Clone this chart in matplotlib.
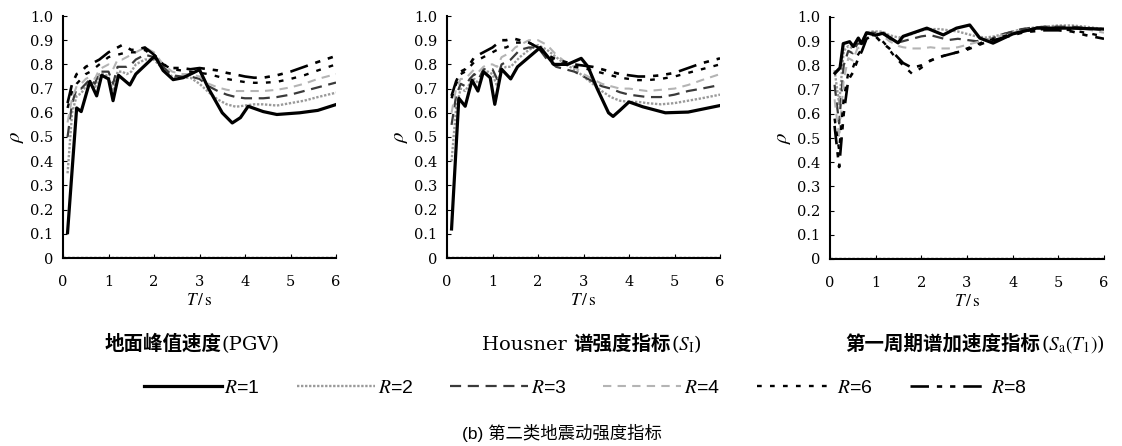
import matplotlib
matplotlib.use("Agg")
import matplotlib.pyplot as plt
from matplotlib.offsetbox import TextArea, HPacker, AnnotationBbox

plt.rcParams['mathtext.fontset'] = 'stix'

# ---------------- data ----------------
T = [0.1, 0.2, 0.3, 0.4, 0.5, 0.6, 0.7, 0.8, 0.9, 1.0, 1.1, 1.2, 1.3, 1.4, 1.5, 1.6,
     1.8, 2.0, 2.2, 2.4, 2.6, 2.8, 3.0, 3.2, 3.4, 3.6, 3.8, 4.0, 4.2, 4.4, 4.7, 5.0,
     5.3, 5.6, 6.0]

# Panel 1: PGV
T_pgv_r1 = [0.1, 0.3, 0.4, 0.59, 0.74, 0.85, 1.0, 1.1, 1.22, 1.47, 1.6, 2.02, 2.2,
            2.42, 2.64, 3.0, 3.2, 3.5, 3.72, 3.9, 4.07, 4.4, 4.7, 5.2, 5.6, 6.0]
pgv_r1 = [0.105, 0.62, 0.605, 0.73, 0.67, 0.755, 0.74, 0.65, 0.755, 0.715, 0.76, 0.835,
          0.775, 0.737, 0.745, 0.778, 0.70, 0.60, 0.558, 0.58, 0.627, 0.605, 0.593, 0.60,
          0.61, 0.634]
pgv_r2 = [0.35, 0.60, 0.67, 0.68, 0.71, 0.73, 0.70, 0.76, 0.76, 0.75, 0.69, 0.77, 0.77,
          0.76, 0.77, 0.80, 0.82, 0.82, 0.78, 0.75, 0.745, 0.745, 0.72, 0.685, 0.655,
          0.635, 0.625, 0.63, 0.635, 0.635, 0.63, 0.64, 0.65, 0.665, 0.683]
pgv_r3 = [0.50, 0.64, 0.70, 0.70, 0.72, 0.74, 0.72, 0.77, 0.77, 0.77, 0.72, 0.79, 0.79,
          0.79, 0.80, 0.82, 0.84, 0.83, 0.79, 0.755, 0.75, 0.75, 0.74, 0.71, 0.69, 0.675,
          0.665, 0.66, 0.66, 0.66, 0.665, 0.675, 0.69, 0.705, 0.725]
pgv_r4 = [0.56, 0.66, 0.71, 0.72, 0.74, 0.75, 0.74, 0.78, 0.79, 0.80, 0.78, 0.82, 0.82,
          0.83, 0.84, 0.85, 0.87, 0.85, 0.80, 0.77, 0.76, 0.76, 0.75, 0.72, 0.705, 0.695,
          0.69, 0.69, 0.69, 0.69, 0.695, 0.705, 0.72, 0.74, 0.76]
pgv_r6 = [0.62, 0.69, 0.72, 0.74, 0.76, 0.77, 0.785, 0.80, 0.815, 0.83, 0.835, 0.84,
          0.845, 0.85, 0.85, 0.85, 0.86, 0.83, 0.80, 0.78, 0.775, 0.77, 0.765, 0.76,
          0.75, 0.74, 0.733, 0.727, 0.724, 0.724, 0.728, 0.74, 0.755, 0.775, 0.80]
pgv_r8 = [0.64, 0.72, 0.76, 0.77, 0.79, 0.80, 0.81, 0.82, 0.835, 0.85, 0.86, 0.87,
          0.88, 0.87, 0.86, 0.86, 0.87, 0.84, 0.80, 0.785, 0.785, 0.78, 0.785, 0.78,
          0.775, 0.765, 0.758, 0.75, 0.745, 0.745, 0.755, 0.77, 0.79, 0.81, 0.835]

# Panel 2: Housner SI
T_si_r1 = [0.1, 0.26, 0.4, 0.55, 0.68, 0.8, 0.95, 1.05, 1.2, 1.4, 1.55, 2.05, 2.35,
           2.65, 2.95, 3.1, 3.3, 3.55, 3.65, 3.8, 4.0, 4.3, 4.8, 5.3, 6.0]
si_r1 = [0.12, 0.66, 0.627, 0.735, 0.69, 0.77, 0.745, 0.635, 0.78, 0.74, 0.79, 0.87,
         0.80, 0.80, 0.825, 0.79, 0.70, 0.60, 0.585, 0.61, 0.645, 0.625, 0.60, 0.603,
         0.63]
si_r2 = [0.40, 0.62, 0.70, 0.69, 0.72, 0.74, 0.72, 0.77, 0.77, 0.76, 0.71, 0.78, 0.79,
         0.79, 0.81, 0.83, 0.86, 0.88, 0.86, 0.83, 0.80, 0.78, 0.75, 0.72, 0.69, 0.665,
         0.65, 0.645, 0.645, 0.64, 0.635, 0.64, 0.65, 0.66, 0.675]
si_r3 = [0.55, 0.67, 0.72, 0.71, 0.74, 0.76, 0.74, 0.78, 0.78, 0.78, 0.74, 0.80, 0.81,
         0.82, 0.84, 0.86, 0.87, 0.87, 0.82, 0.79, 0.78, 0.77, 0.75, 0.73, 0.71, 0.70,
         0.685, 0.675, 0.67, 0.665, 0.665, 0.675, 0.69, 0.70, 0.715]
si_r4 = [0.60, 0.70, 0.74, 0.74, 0.76, 0.78, 0.77, 0.79, 0.80, 0.80, 0.79, 0.83, 0.84,
         0.85, 0.87, 0.88, 0.90, 0.90, 0.88, 0.84, 0.81, 0.79, 0.76, 0.74, 0.72, 0.71,
         0.70, 0.70, 0.695, 0.69, 0.695, 0.70, 0.715, 0.735, 0.76]
si_r6 = [0.66, 0.72, 0.76, 0.77, 0.79, 0.81, 0.82, 0.83, 0.84, 0.85, 0.86, 0.87, 0.87,
         0.88, 0.89, 0.89, 0.89, 0.87, 0.83, 0.81, 0.80, 0.79, 0.785, 0.775, 0.765,
         0.755, 0.745, 0.74, 0.735, 0.735, 0.74, 0.75, 0.765, 0.78, 0.80]
si_r8 = [0.67, 0.73, 0.77, 0.78, 0.80, 0.83, 0.84, 0.85, 0.86, 0.87, 0.885, 0.90, 0.90,
         0.905, 0.905, 0.90, 0.89, 0.87, 0.84, 0.82, 0.81, 0.80, 0.795, 0.79, 0.78,
         0.77, 0.76, 0.755, 0.75, 0.75, 0.755, 0.765, 0.785, 0.805, 0.825]

# Panel 3: Sa(T1)
T_sa_r1 = [0.11, 0.22, 0.29, 0.43, 0.51, 0.62, 0.69, 0.80, 1.0, 1.16, 1.49, 1.6, 2.12,
           2.48, 2.77, 3.06, 3.28, 3.57, 4.0, 4.52, 5.25, 6.0]
sa_r1 = [0.768, 0.79, 0.89, 0.898, 0.878, 0.913, 0.89, 0.935, 0.925, 0.933, 0.893,
         0.92, 0.954, 0.926, 0.954, 0.967, 0.913, 0.892, 0.93, 0.954, 0.954, 0.95]
sa_r2 = [0.78, 0.64, 0.86, 0.88, 0.87, 0.905, 0.90, 0.935, 0.94, 0.94, 0.94, 0.935,
         0.925, 0.92, 0.915, 0.92, 0.93, 0.945, 0.95, 0.95, 0.945, 0.94, 0.93, 0.92,
         0.915, 0.92, 0.93, 0.94, 0.95, 0.955, 0.96, 0.965, 0.965, 0.96, 0.95]
sa_r3 = [0.72, 0.56, 0.80, 0.86, 0.85, 0.89, 0.89, 0.93, 0.935, 0.935, 0.935, 0.925,
         0.91, 0.90, 0.895, 0.90, 0.91, 0.92, 0.925, 0.915, 0.905, 0.91, 0.905, 0.90,
         0.905, 0.915, 0.93, 0.94, 0.95, 0.955, 0.96, 0.96, 0.96, 0.955, 0.945]
sa_r4 = [0.66, 0.50, 0.74, 0.83, 0.82, 0.87, 0.88, 0.925, 0.93, 0.93, 0.925, 0.915,
         0.90, 0.89, 0.88, 0.875, 0.87, 0.87, 0.875, 0.87, 0.87, 0.875, 0.885, 0.895,
         0.905, 0.915, 0.925, 0.935, 0.945, 0.95, 0.955, 0.955, 0.955, 0.95, 0.935]
sa_r6 = [0.58, 0.45, 0.66, 0.77, 0.79, 0.84, 0.87, 0.915, 0.925, 0.925, 0.91, 0.89,
         0.865, 0.84, 0.82, 0.80, 0.765, 0.79, 0.82, 0.835, 0.845, 0.855, 0.87, 0.885,
         0.90, 0.91, 0.92, 0.93, 0.94, 0.945, 0.95, 0.95, 0.945, 0.935, 0.92]
sa_r8 = [0.55, 0.38, 0.60, 0.74, 0.77, 0.82, 0.86, 0.91, 0.92, 0.92, 0.90, 0.885,
         0.87, 0.85, 0.83, 0.81, 0.79, 0.80, 0.82, 0.835, 0.845, 0.855, 0.865, 0.88,
         0.895, 0.905, 0.915, 0.925, 0.935, 0.94, 0.945, 0.945, 0.94, 0.925, 0.91]

R_labels = ["1", "2", "3", "4", "6", "8"]
x_ticks = [0, 1, 2, 3, 4, 5, 6]
y_ticks = [0, 0.1, 0.2, 0.3, 0.4, 0.5, 0.6, 0.7, 0.8, 0.9, 1.0]
y_ticklabels = ["0", "0.1", "0.2", "0.3", "0.4", "0.5", "0.6", "0.7", "0.8", "0.9", "1.0"]

panels = [
    ((T_pgv_r1, pgv_r1), [pgv_r2, pgv_r3, pgv_r4, pgv_r6, pgv_r8]),
    ((T_si_r1, si_r1), [si_r2, si_r3, si_r4, si_r6, si_r8]),
    ((T_sa_r1, sa_r1), [sa_r2, sa_r3, sa_r4, sa_r6, sa_r8]),
]

# ---------------- styles ----------------
styles = [
    dict(color='black', lw=2.3, ls='-'),
    dict(color='#9a9a9a', lw=1.7, ls=(0, (1, 0.7))),
    dict(color='#3a3a3a', lw=1.6, ls=(0, (5, 3))),
    dict(color='#b4b4b4', lw=1.5, ls=(0, (4, 3))),
    dict(color='black', lw=1.7, ls=(0, (2, 3.5))),
    dict(color='black', lw=1.9, ls=(0, (7, 3, 2, 3, 2, 3))),
]

W, H = 1122, 446
fig = plt.figure(figsize=(W / 100, H / 100), dpi=100)

axes_px = [(63, 16, 336, 258), (447, 16, 720, 258), (830, 17, 1104, 259)]
serif = 'DejaVu Serif'

handles = []
for i, ((tr1, r1), others) in enumerate(panels):
    l, t, r, b = axes_px[i]
    ax = fig.add_axes([l / W, 1 - b / H, (r - l) / W, (b - t) / H])
    lines = []
    ln, = ax.plot(tr1, r1, zorder=3, **styles[0])
    lines.append(ln)
    for k, ser in enumerate(others):
        ln, = ax.plot(T, ser, zorder=2, **styles[k + 1])
        lines.append(ln)
    ax.axhline(0.006, color='black', lw=0.9, ls=(0, (2, 1.5)), zorder=1)
    if i == 0:
        handles = lines
    ax.set_xlim(0, 6)
    ax.set_ylim(0, 1.0)
    ax.set_xticks(x_ticks)
    ax.set_xticklabels([str(v) for v in x_ticks], family=serif, fontsize=10.5)
    ax.set_yticks(y_ticks)
    ax.set_yticklabels(y_ticklabels, family=serif, fontsize=10.5)
    ax.tick_params(axis='x', direction='in', length=3, width=0.8, pad=12)
    ax.tick_params(axis='y', direction='in', length=3, width=0.8, pad=7)
    for s in ['top', 'right']:
        ax.spines[s].set_visible(False)
    for s in ['left', 'bottom']:
        ax.spines[s].set_linewidth(1.5)
    ax.set_xlabel(r"$T\,/\,\mathrm{s}$", fontsize=12.5, labelpad=2)
    ax.set_ylabel(r"$\rho$", fontsize=15, labelpad=3)

# ---------------- titles ----------------
cjk = dict(family='Noto Sans CJK SC', weight='bold', size=14)
lat = dict(family=serif, size=14)

def add_title(parts, xc, yc):
    children = [TextArea(txt, textprops=props) for txt, props in parts]
    box = HPacker(children=children, align='baseline', pad=0, sep=0)
    ab = AnnotationBbox(box, (xc / W, 1 - yc / H), xycoords='figure fraction',
                        frameon=False, box_alignment=(0.5, 0.5), pad=0)
    fig.add_artist(ab)

add_title([("地面峰值速度", cjk), ("(PGV)", lat)], 192, 344)
add_title([("Housner ", lat), ("谱强度指标", cjk), (r"($S_\mathrm{I}$)", lat)], 592, 344)
add_title([("第一周期谱加速度指标", cjk), (r"($S_\mathrm{a}(T_1)$)", lat)], 975, 344)

# ---------------- legend ----------------
leg = fig.legend(handles, [r"$R$=" + s for s in R_labels], loc='center',
                 bbox_to_anchor=(585 / W, 1 - 388 / H), ncol=6, frameon=False,
                 handlelength=4.0, handletextpad=0.15, columnspacing=1.9,
                 prop=dict(family=['Liberation Sans Narrow', 'Liberation Sans'], size=14))

# ---------------- caption ----------------
fig.text(562 / W, 1 - 433 / H, "(b) 第二类地震动强度指标",
         family=['Liberation Sans', 'Noto Sans CJK SC'], fontsize=12.5,
         ha='center', va='center')

fig.savefig("out.png", dpi=100)
